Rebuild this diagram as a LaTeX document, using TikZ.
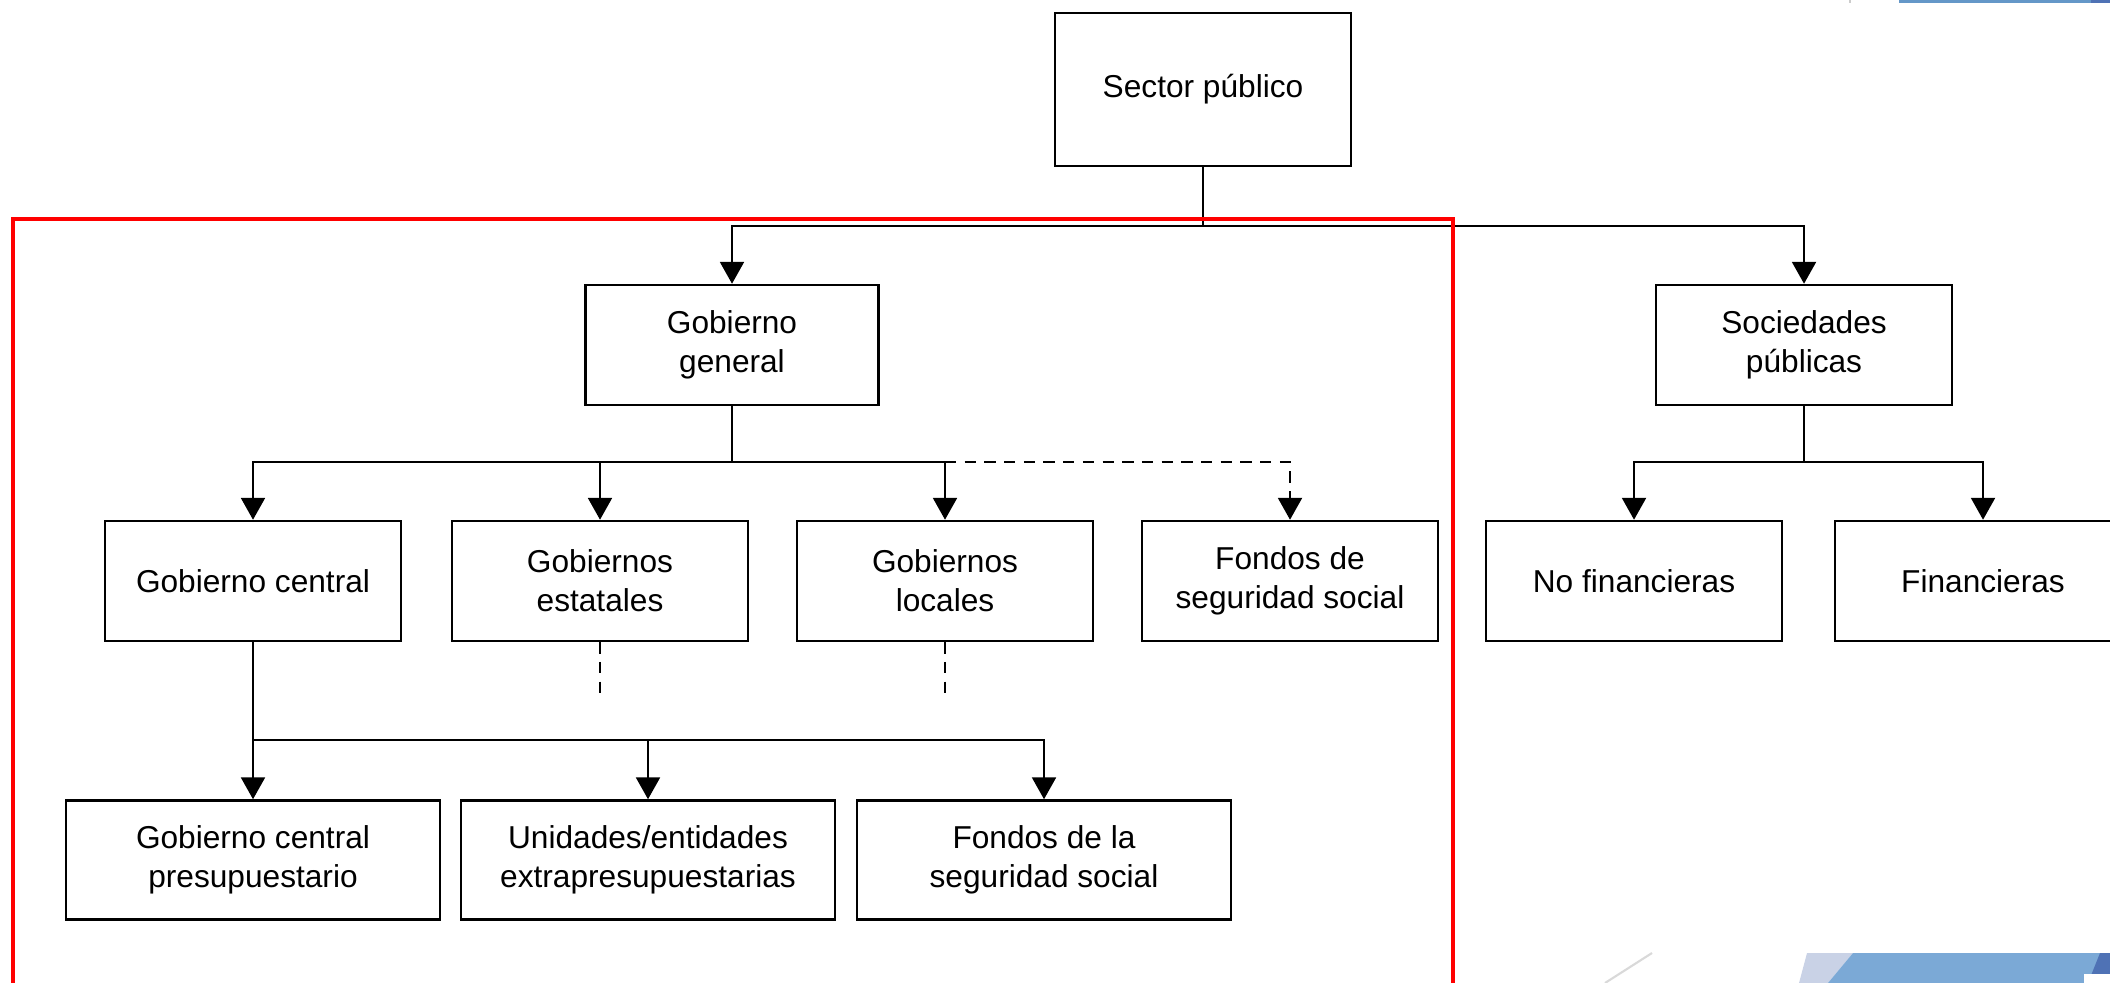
\documentclass[tikz,border=0pt]{standalone}
\usepackage{fontspec}
\setmainfont{Liberation Sans}
\usetikzlibrary{arrows.meta}
\definecolor{slideblue}{HTML}{7BA9D6}
\definecolor{slidedark}{HTML}{4F72B5}
\definecolor{slidelav}{HTML}{C9D2E6}
\definecolor{slidetop}{HTML}{6497C8}
\begin{document}
\begin{tikzpicture}
[x=0.01cm,y=-0.01cm,
box/.style={draw,line width=0.7pt,minimum width=2.96cm,minimum height=1.2cm,inner sep=0pt,align=center,font=\fontsize{9}{11}\selectfont},
wide/.style={box,minimum width=3.74cm,minimum height=1.19cm},
arr/.style={line width=0.6pt,-{Triangle[length=6.2pt,width=6.8pt]}},
link/.style={line width=0.6pt},
dashline/.style={dash pattern=on 3.2pt off 2.4pt}]
\path[use as bounding box,clip] (0,0) rectangle (2110,983);
\node[box,minimum height=1.53cm] (sp) at (1203,89.5) {Sector público};
\node[box,minimum width=2.93cm] (gg) at (732,345) {Gobierno\\general};
\node[box] (soc) at (1804,345) {Sociedades\\públicas};
\node[box] (gc) at (253,581) {Gobierno central};
\node[box] (ge) at (600,581) {Gobiernos\\estatales};
\node[box] (gl) at (945,581) {Gobiernos\\locales};
\node[box] (fss) at (1290,581) {Fondos de\\seguridad social};
\node[box] (nf) at (1634,581) {No financieras};
\node[box] (fin) at (1983,581) {Financieras};
\node[wide] (gcp) at (253,860) {Gobierno central\\presupuestario};
\node[wide] (uni) at (648,860) {Unidades/entidades\\extrapresupuestarias};
\node[wide] (fsl) at (1044,860) {Fondos de la\\seguridad social};
\coordinate (spj) at (1203,226);
\coordinate (ggj) at (732,462);
\coordinate (socj) at (1804,462);
\coordinate (gcj) at (253,740);
\coordinate (ge-end) at (600,697);
\coordinate (gl-end) at (945,697);
\draw[link] (sp) -- (spj);
\draw[arr] (spj) -| (gg);
\draw[arr] (spj) -| (soc);
\draw[link] (gg) -- (ggj);
\draw[arr] (ggj) -| (gc);
\draw[arr] (ggj) -| (ge);
\draw[arr] (ggj) -| (gl);
\draw[arr,dashline] (gl.north |- ggj) -| (fss);
\draw[link,dashline] (ge) -- (ge-end);
\draw[link,dashline] (gl) -- (gl-end);
\draw[link] (soc) -- (socj);
\draw[arr] (socj) -| (nf);
\draw[arr] (socj) -| (fin);
\draw[arr] (gc) -- (gcp);
\draw[arr] (gcj) -| (uni);
\draw[arr] (gcj) -| (fsl);
\draw[red,line width=1.15pt] (13,1010) |- (1453,219) -- (1453,1010);
\fill[slidetop] (1899,0) rectangle (2110,3.5);
\fill[slidedark] (2091,0) rectangle (2110,3.5);
\draw[gray!40,line width=0.5pt] (1850,0) -- (1850,3.5);
\draw[gray!30,line width=0.6pt] (1605,983) -- (1652,953);
\fill[slidelav] (1807,953) -- (1853,953) -- (1828,983) -- (1799,983) -- cycle;
\fill[slideblue] (1853,953) -- (2103,953) -- (2092,983) -- (1828,983) -- cycle;
\fill[slidedark] (2100,953) -- (2110,953) -- (2110,983) -- (2088,983) -- cycle;
\fill[white] (2084,974) rectangle (2110,983);
\end{tikzpicture}
\end{document}
